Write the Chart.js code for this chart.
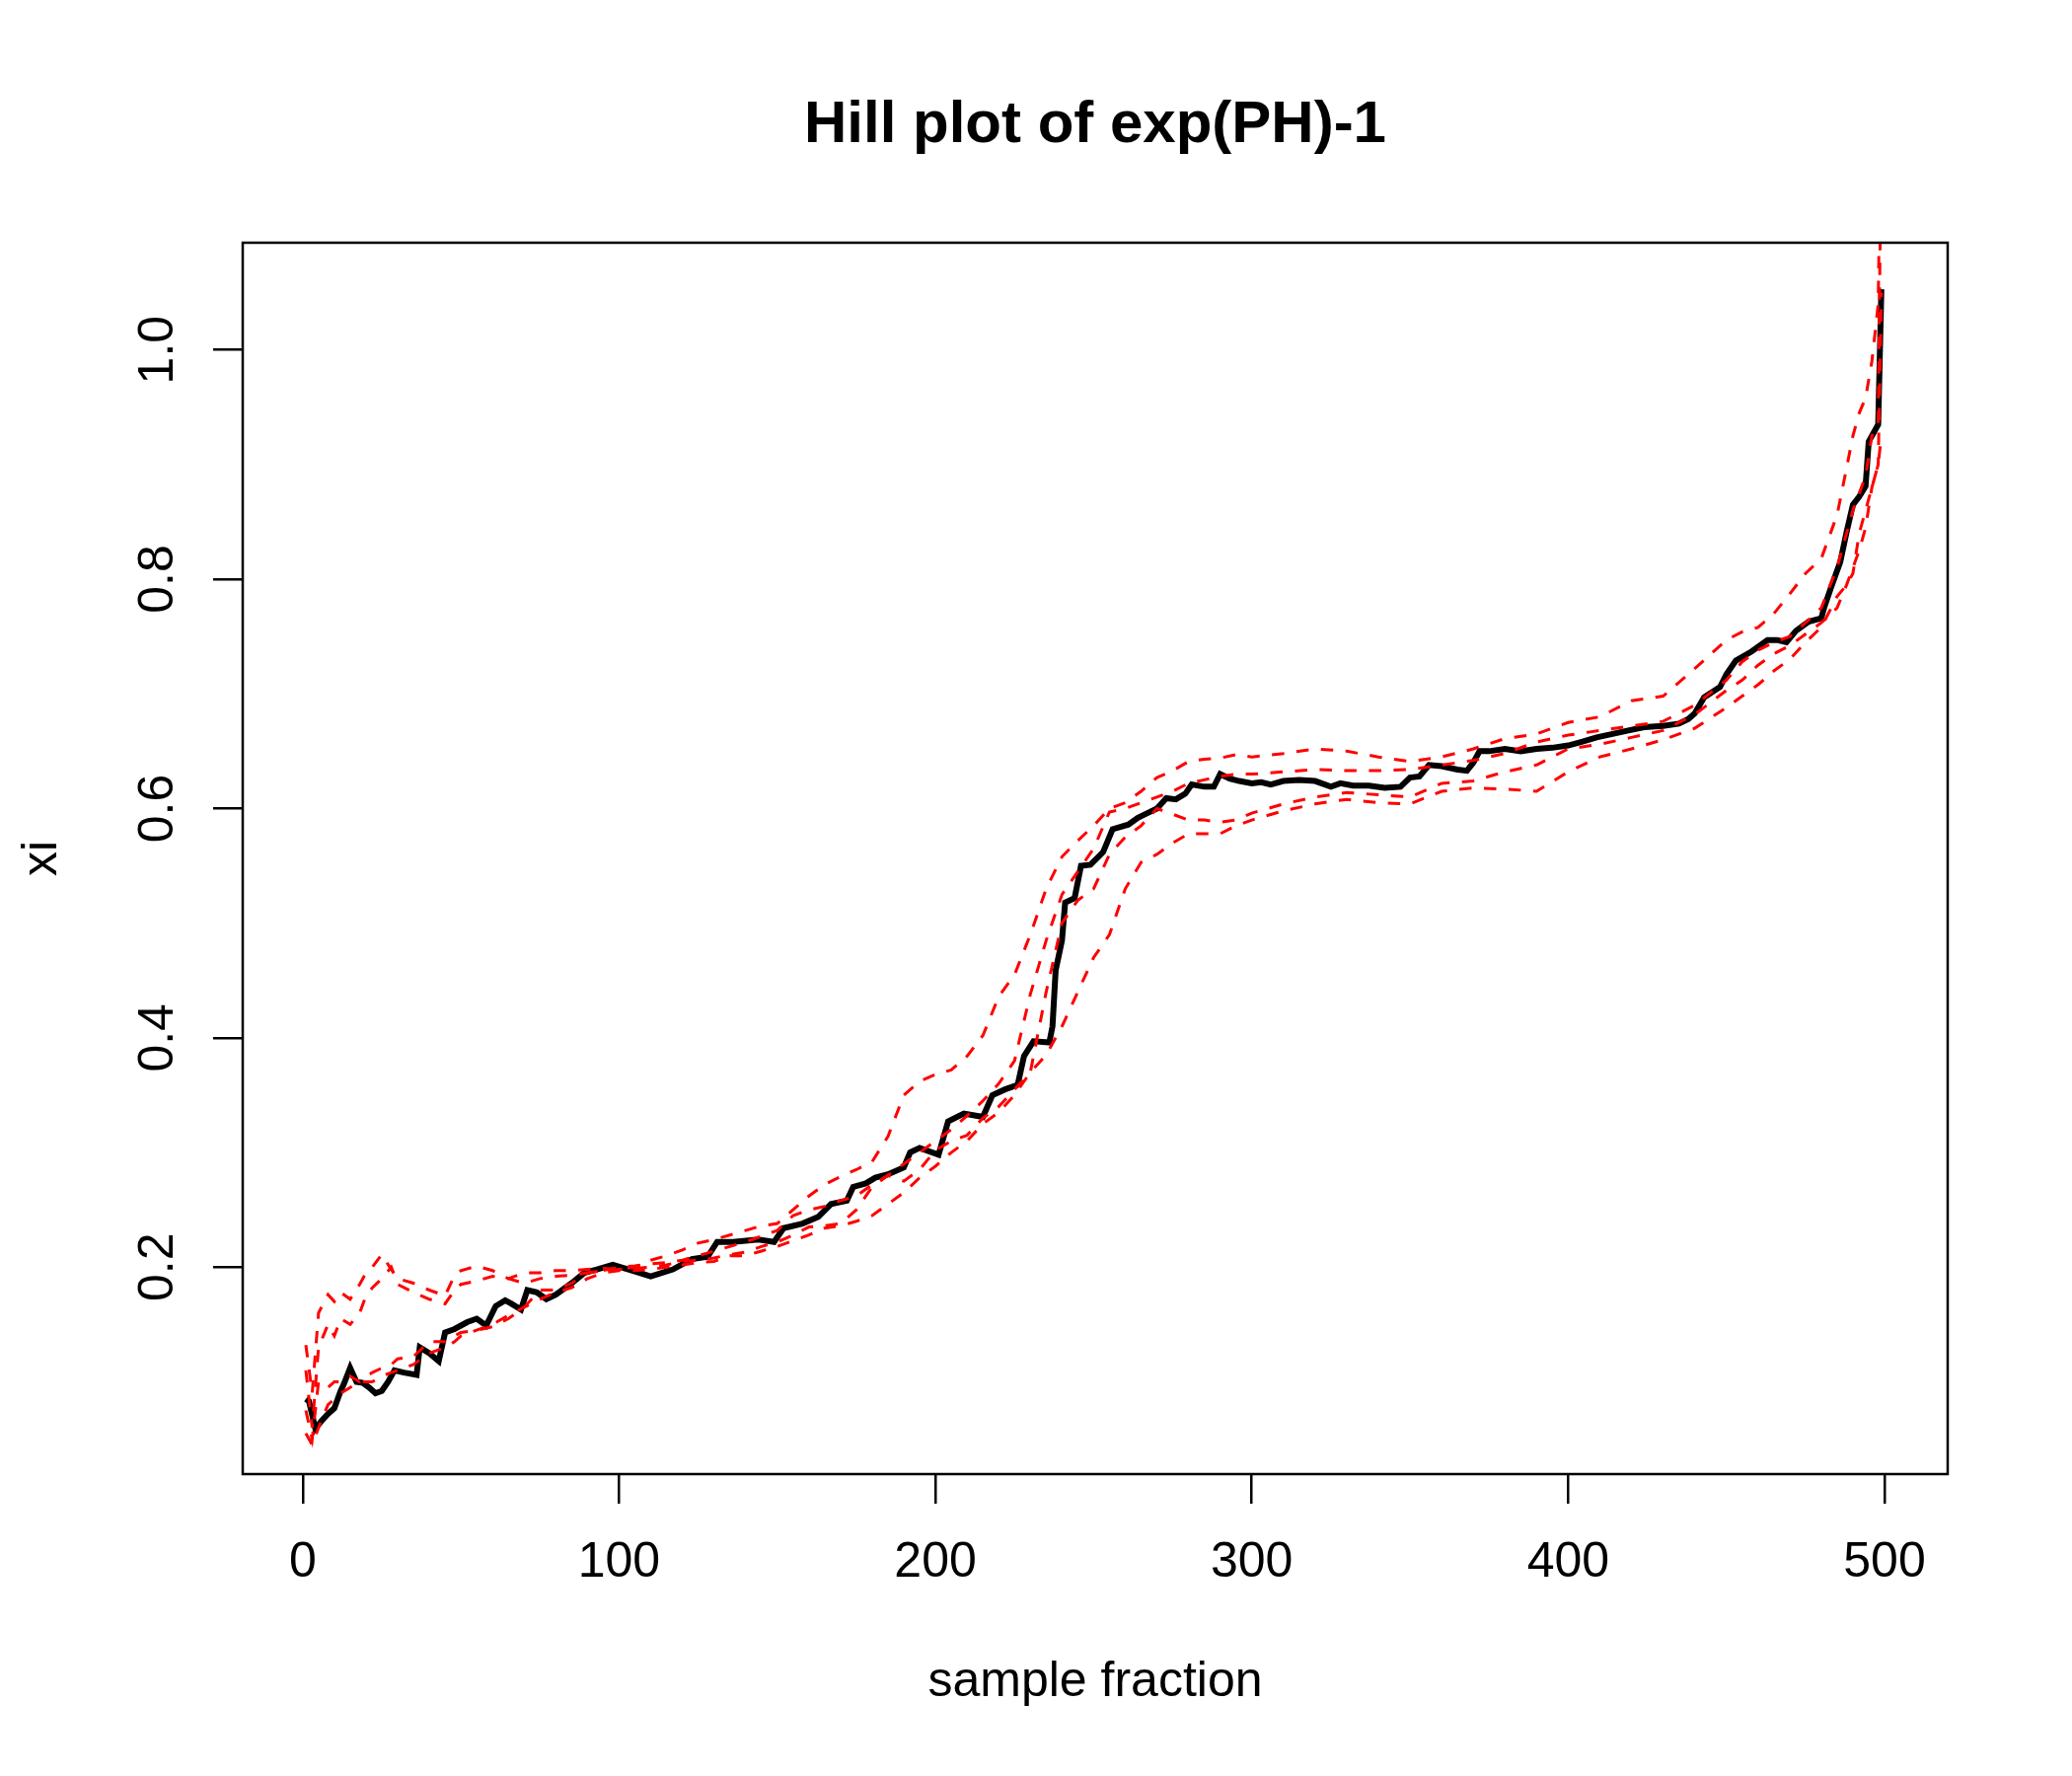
<!DOCTYPE html>
<html>
<head>
<meta charset="utf-8">
<title>Hill plot of exp(PH)-1</title>
<script src="https://cdn.jsdelivr.net/npm/chart.js"></script>
<style>
    html, body { margin: 0; padding: 0; background: #ffffff; }
    #hill-chart { display: block; }
</style>
</head>
<body>
<canvas id="hill-chart" width="2100" height="1800"></canvas>
<script>
// ==============================
// Data
// ==============================

// Hill estimate (black line)
const hillK = [1,2,4,6,8,10,12,13,15,17,19,21,23,25,27,29,32,36,37,40,43,45,48,52,55,58,61,64,66,69,71,74,77,80,82,85,89,93,98,104,110,117,123,128,131,136,144,149,152,158,163,167,172,174,178,181,185,190,192,195,201,204,209,215,218,222,226,228,231,236,237,238,240,241,244,246,249,253,256,261,264,267,270,273,276,279,281,285,288,290,293,296,300,303,306,310,315,320,325,328,332,337,342,347,350,353,356,360,365,368,370,372,375,380,385,390,395,400,404,409,414,419,424,430,435,438,440,443,448,450,453,458,463,466,469,472,476,480,481,483,486,488,490,492,494,495,497,498,499];
const hillXi = [0.085,0.083,0.059,0.066,0.072,0.077,0.092,0.098,0.112,0.1,0.099,0.095,0.09,0.092,0.1,0.11,0.108,0.106,0.13,0.125,0.118,0.143,0.146,0.152,0.155,0.149,0.166,0.171,0.168,0.163,0.18,0.178,0.172,0.176,0.18,0.186,0.195,0.198,0.202,0.197,0.192,0.198,0.207,0.209,0.222,0.222,0.224,0.222,0.234,0.238,0.244,0.255,0.258,0.27,0.273,0.278,0.281,0.287,0.3,0.304,0.298,0.327,0.334,0.331,0.35,0.355,0.359,0.384,0.397,0.396,0.41,0.459,0.485,0.518,0.522,0.55,0.551,0.562,0.582,0.586,0.592,0.596,0.6,0.609,0.608,0.613,0.621,0.619,0.619,0.63,0.626,0.624,0.622,0.623,0.621,0.624,0.625,0.624,0.619,0.622,0.62,0.62,0.618,0.619,0.627,0.628,0.638,0.637,0.634,0.633,0.64,0.65,0.65,0.652,0.65,0.652,0.653,0.655,0.658,0.662,0.665,0.668,0.671,0.672,0.674,0.678,0.683,0.697,0.706,0.717,0.729,0.737,0.747,0.747,0.745,0.755,0.763,0.766,0.776,0.792,0.815,0.841,0.865,0.872,0.881,0.92,0.93,0.935,1.053];

// red dashed curves, all read on the same k grid
const bandK = [1,3,5,8,10,12,15,18,20,22,25,28,30,35,40,45,48,50,55,60,65,70,75,80,85,90,95,100,105,110,115,120,125,130,135,140,145,150,155,160,165,170,175,180,185,190,195,200,205,210,215,220,225,230,235,240,245,250,255,260,265,270,275,280,285,290,295,300,310,320,330,340,350,360,370,380,390,400,410,420,430,440,450,455,460,465,470,475,480,485,488,490,492,494,496,498,499];
const upperOuter = [0.132,0.09,0.16,0.176,0.17,0.178,0.172,0.185,0.195,0.2,0.211,0.198,0.19,0.186,0.18,0.175,0.193,0.197,0.201,0.197,0.19,0.195,0.195,0.197,0.197,0.198,0.199,0.198,0.2,0.206,0.21,0.215,0.221,0.224,0.228,0.232,0.236,0.238,0.25,0.262,0.272,0.279,0.285,0.292,0.314,0.35,0.362,0.368,0.372,0.384,0.402,0.436,0.455,0.49,0.53,0.558,0.572,0.585,0.6,0.605,0.615,0.627,0.633,0.641,0.643,0.644,0.647,0.645,0.648,0.652,0.65,0.645,0.641,0.645,0.652,0.661,0.665,0.675,0.68,0.694,0.698,0.722,0.747,0.754,0.758,0.77,0.787,0.805,0.818,0.856,0.897,0.925,0.945,0.958,0.99,1.04,1.25];
const upperInner = [0.11,0.06,0.13,0.15,0.14,0.155,0.15,0.16,0.175,0.182,0.19,0.2,0.185,0.178,0.172,0.168,0.18,0.185,0.188,0.192,0.19,0.186,0.19,0.192,0.193,0.195,0.197,0.2,0.201,0.203,0.204,0.206,0.21,0.214,0.218,0.222,0.227,0.232,0.245,0.25,0.253,0.258,0.262,0.272,0.28,0.29,0.3,0.31,0.32,0.332,0.345,0.36,0.38,0.438,0.485,0.525,0.545,0.565,0.597,0.6,0.605,0.61,0.615,0.622,0.625,0.628,0.63,0.63,0.632,0.634,0.633,0.633,0.634,0.638,0.642,0.648,0.658,0.664,0.668,0.672,0.676,0.69,0.712,0.728,0.738,0.745,0.75,0.762,0.775,0.81,0.84,0.86,0.875,0.89,0.925,0.935,1.2];
const lowerInner = [0.075,0.05,0.1,0.095,0.1,0.1,0.105,0.1,0.105,0.108,0.112,0.115,0.12,0.122,0.135,0.135,0.14,0.143,0.145,0.148,0.155,0.165,0.18,0.18,0.186,0.195,0.197,0.198,0.199,0.2,0.202,0.205,0.206,0.208,0.211,0.213,0.218,0.222,0.228,0.235,0.236,0.238,0.25,0.27,0.28,0.275,0.285,0.302,0.31,0.315,0.33,0.34,0.355,0.37,0.44,0.5,0.52,0.53,0.56,0.575,0.585,0.6,0.595,0.59,0.59,0.588,0.59,0.596,0.604,0.61,0.614,0.612,0.61,0.622,0.624,0.632,0.638,0.652,0.656,0.662,0.668,0.682,0.703,0.712,0.725,0.735,0.742,0.752,0.762,0.775,0.795,0.81,0.825,0.845,0.88,0.9,1.05];
const lowerOuter = [0.055,0.045,0.06,0.08,0.085,0.09,0.095,0.1,0.1,0.1,0.105,0.108,0.11,0.115,0.125,0.13,0.135,0.14,0.145,0.15,0.158,0.165,0.172,0.178,0.182,0.19,0.195,0.197,0.197,0.198,0.2,0.202,0.204,0.205,0.21,0.21,0.214,0.218,0.223,0.228,0.234,0.236,0.24,0.245,0.255,0.265,0.278,0.288,0.3,0.31,0.325,0.335,0.35,0.37,0.385,0.41,0.44,0.47,0.49,0.53,0.553,0.56,0.57,0.578,0.578,0.578,0.585,0.59,0.598,0.604,0.608,0.605,0.604,0.615,0.618,0.617,0.615,0.632,0.645,0.652,0.66,0.67,0.688,0.698,0.708,0.72,0.73,0.745,0.758,0.785,0.795,0.805,0.84,0.86,0.88,0.9,0.925];

// axes
const xTickValues = [0, 100, 200, 300, 400, 500];
const yTickValues = [0.2, 0.4, 0.6, 0.8, 1.0];
const xRange = [-18.96, 519.96];
const yRange = [0.0195, 1.0935];

// ==============================
// Helpers
// ==============================

const fontFamily = "'Liberation Sans', Arial, Helvetica, sans-serif";

function toPoints(ks, values) {
    return ks.map(function (k, i) {
        return { x: k, y: values[i] };
    });
}

function redDashed(values) {
    return {
        data: toPoints(bandK, values),
        borderColor: "#ff0000",
        borderWidth: 3,
        borderDash: [12.5, 12.5],
        pointRadius: 0,
        tension: 0,
        order: 0
    };
}

// box around the plot region, like R's box()
const plotBox = {
    id: "plotBox",
    afterDraw: function (chart) {
        const area = chart.chartArea;
        const ctx = chart.ctx;
        ctx.save();
        ctx.strokeStyle = "#000000";
        ctx.lineWidth = 2.5;
        ctx.strokeRect(area.left, area.top, area.right - area.left, area.bottom - area.top);
        ctx.restore();
    }
};

// ==============================
// Create Chart
// ==============================

const hillCanvas = document.getElementById("hill-chart");

const hillChart = new Chart(hillCanvas, {
    type: "line",
    data: {
        datasets: [
            redDashed(upperOuter),
            redDashed(upperInner),
            redDashed(lowerInner),
            redDashed(lowerOuter),
            {
                data: toPoints(hillK, hillXi),
                borderColor: "#000000",
                borderWidth: 6,
                pointRadius: 0,
                tension: 0,
                order: 1
            }
        ]
    },
    options: {
        responsive: false,
        animation: false,
        layout: {
            padding: { top: 0, right: 126, bottom: 0, left: 0 }
        },
        plugins: {
            legend: { display: false },
            tooltip: { enabled: false },
            title: {
                display: true,
                text: "Hill plot of exp(PH)-1",
                color: "#000000",
                fullSize: false,
                font: { family: fontFamily, size: 60, weight: "bold" },
                padding: { top: 91, bottom: 83 }
            }
        },
        scales: {
            x: {
                type: "linear",
                min: xRange[0],
                max: xRange[1],
                afterBuildTicks: function (scale) {
                    scale.ticks = xTickValues.map(function (v) { return { value: v }; });
                },
                afterFit: function (scale) {
                    scale.height = 306;
                },
                grid: {
                    display: true,
                    drawOnChartArea: false,
                    drawTicks: true,
                    tickLength: 30,
                    lineWidth: 2.5,
                    color: "#000000"
                },
                border: { display: false },
                ticks: {
                    color: "#000000",
                    font: { family: fontFamily, size: 50 },
                    padding: 30,
                    maxRotation: 0,
                    autoSkip: false
                },
                title: {
                    display: true,
                    text: "sample fraction",
                    color: "#000000",
                    font: { family: fontFamily, size: 50 },
                    padding: { top: 0, bottom: 65 }
                }
            },
            y: {
                type: "linear",
                min: yRange[0],
                max: yRange[1],
                afterBuildTicks: function (scale) {
                    scale.ticks = yTickValues.map(function (v) { return { value: v }; });
                },
                afterFit: function (scale) {
                    scale.width = 246;
                },
                grid: {
                    display: true,
                    drawOnChartArea: false,
                    drawTicks: true,
                    tickLength: 30,
                    lineWidth: 2.5,
                    color: "#000000"
                },
                border: { display: false },
                ticks: {
                    color: "#000000",
                    font: { family: fontFamily, size: 50 },
                    padding: 20,
                    minRotation: 90,
                    maxRotation: 90,
                    crossAlign: "center",
                    autoSkip: false,
                    callback: function (value) {
                        return Number(value).toFixed(1);
                    }
                },
                title: {
                    display: true,
                    text: "xi",
                    color: "#000000",
                    font: { family: fontFamily, size: 50 },
                    padding: { top: 13, bottom: 0 }
                }
            }
        }
    },
    plugins: [plotBox]
});
</script>
</body>
</html>
